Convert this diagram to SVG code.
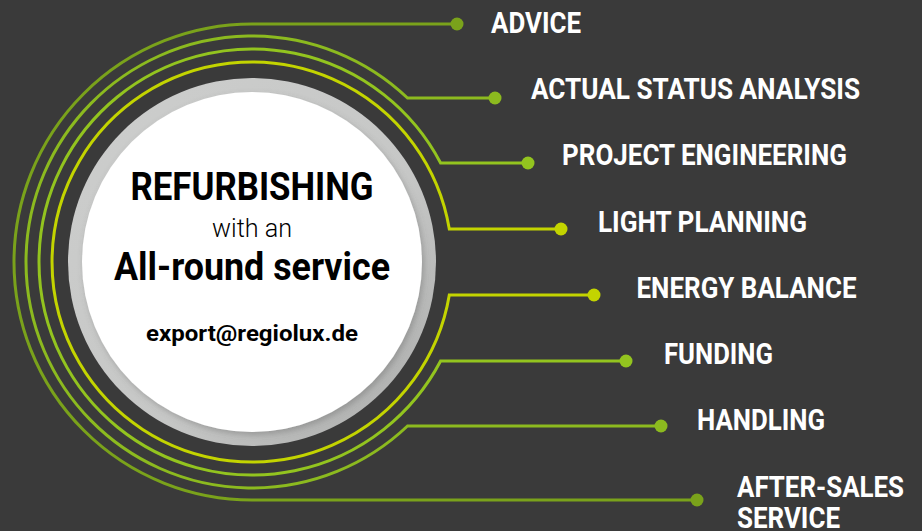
<svg xmlns="http://www.w3.org/2000/svg" width="922" height="531" viewBox="0 0 922 531">
  <defs>
    <linearGradient id="ringGrad" x1="0" y1="0" x2="1" y2="1">
      <stop offset="0" stop-color="#cdcecd"/>
      <stop offset="0.6" stop-color="#c6c7c6"/>
      <stop offset="1" stop-color="#a9aaa9"/>
    </linearGradient>
    <filter id="shadow" x="-10%" y="-10%" width="120%" height="120%">
      <feDropShadow dx="2" dy="3" stdDeviation="3" flood-color="#555" flood-opacity="0.35"/>
    </filter>
  </defs>
  <style>
    .bg { fill: #3a3a3a; }
    .line { fill: none; stroke-width: 3; }
    .c1 { stroke: #7aa21b; }
    .c2 { stroke: #8cba1f; }
    .c3 { stroke: #93c41f; }
    .c4 { stroke: #c3d400; }
    .d1 { fill: #7aa21b; }
    .d2 { fill: #8cba1f; }
    .d3 { fill: #93c41f; }
    .d4 { fill: #c3d400; }
    .label { font-family: Roboto, "Liberation Sans", sans-serif; font-weight: 700; font-size: 29px; fill: #ffffff; }
    .title { font-family: Roboto, "Liberation Sans", sans-serif; font-weight: 700; fill: #000000; text-anchor: middle; }
    .thin { font-family: Roboto, "Liberation Sans", sans-serif; font-weight: 300; fill: #000000; text-anchor: middle; }
  </style>
  <rect class="bg" x="0" y="0" width="922" height="531"/>

  <g id="connectors">
    <path class="line c1" d="M457,24 H252 A238,238 0 0 0 252,500 H697"/>
    <path class="line c2" d="M495,98 H407.5 A226,226 0 1 0 407.5,426 H661"/>
    <path class="line c3" d="M528,163 H440.6 A213,213 0 1 0 440.6,361 H626"/>
    <path class="line c4" d="M561,229 H449.3 A200,200 0 1 0 449.3,295 H594"/>
    <circle class="d1" cx="457" cy="24" r="6.5"/>
    <circle class="d2" cx="495" cy="98" r="6.5"/>
    <circle class="d3" cx="528" cy="163" r="6.5"/>
    <circle class="d4" cx="561" cy="229" r="6.5"/>
    <circle class="d4" cx="594" cy="295" r="6.5"/>
    <circle class="d3" cx="626" cy="361" r="6.5"/>
    <circle class="d2" cx="661" cy="426" r="6.5"/>
    <circle class="d1" cx="697" cy="500" r="6.5"/>
  </g>

  <g id="center">
    <circle cx="252" cy="262" r="184" fill="url(#ringGrad)"/>
    <circle cx="252" cy="262" r="170" fill="#ffffff" filter="url(#shadow)"/>
    <text class="title" x="252" y="200" font-size="38" textLength="243" lengthAdjust="spacingAndGlyphs">REFURBISHING</text>
    <text class="thin" x="252" y="237" font-size="26" textLength="80" lengthAdjust="spacingAndGlyphs">with an</text>
    <text class="title" x="252" y="280" font-size="39" textLength="276" lengthAdjust="spacingAndGlyphs">All-round service</text>
    <text class="title" x="252" y="340.5" font-size="22" textLength="212" lengthAdjust="spacingAndGlyphs">export@regiolux.de</text>
  </g>

  <g id="advice"><text class="label" x="491" y="33" textLength="90" lengthAdjust="spacingAndGlyphs">ADVICE</text></g>
  <g id="actual-status"><text class="label" x="531" y="99" textLength="329" lengthAdjust="spacingAndGlyphs">ACTUAL STATUS ANALYSIS</text></g>
  <g id="project-engineering"><text class="label" x="562" y="165" textLength="285" lengthAdjust="spacingAndGlyphs">PROJECT ENGINEERING</text></g>
  <g id="light-planning"><text class="label" x="598" y="231.5" textLength="209" lengthAdjust="spacingAndGlyphs">LIGHT PLANNING</text></g>
  <g id="energy-balance"><text class="label" x="636.5" y="297.5" textLength="220" lengthAdjust="spacingAndGlyphs">ENERGY BALANCE</text></g>
  <g id="funding"><text class="label" x="664" y="364" textLength="109" lengthAdjust="spacingAndGlyphs">FUNDING</text></g>
  <g id="handling"><text class="label" x="697" y="430" textLength="128" lengthAdjust="spacingAndGlyphs">HANDLING</text></g>
  <g id="after-sales">
    <text class="label" x="737" y="496.5" textLength="167" lengthAdjust="spacingAndGlyphs">AFTER-SALES</text>
    <text class="label" x="737" y="527.5" textLength="103" lengthAdjust="spacingAndGlyphs">SERVICE</text>
  </g>
</svg>
